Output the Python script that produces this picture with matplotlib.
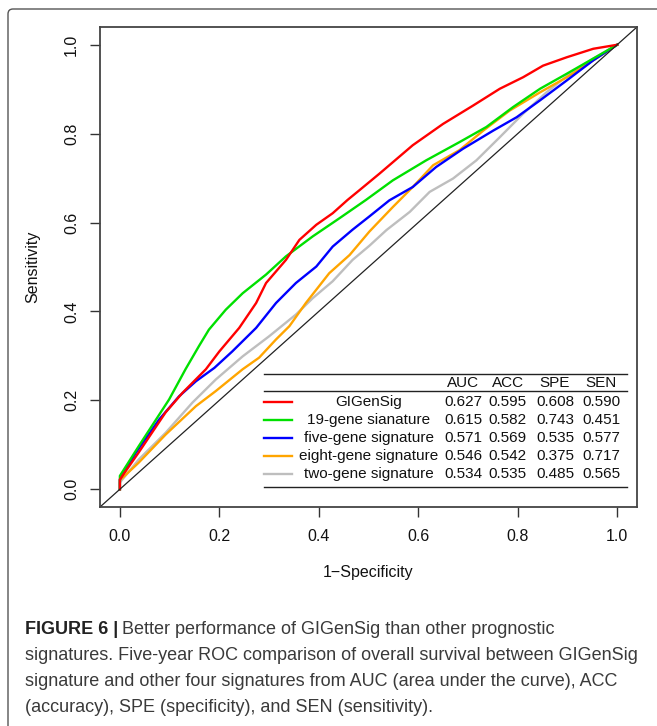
import numpy as np
import matplotlib.pyplot as plt
from matplotlib.patches import FancyBboxPatch
from matplotlib.transforms import IdentityTransform

plt.rcParams['font.family'] = ['Liberation Sans', 'DejaVu Sans']

# ROC curves (1-specificity, sensitivity)
red_x = [0, 0, 0.038, 0.092, 0.126, 0.173, 0.2, 0.24, 0.274, 0.294, 0.334, 0.361, 0.395, 0.428, 0.458,
         0.482, 0.522, 0.589, 0.65, 0.71, 0.764, 0.811, 0.851, 0.899, 0.952, 1.0]
red_y = [0, 0.022, 0.083, 0.173, 0.217, 0.27, 0.31, 0.363, 0.419, 0.464, 0.516, 0.561, 0.595, 0.621, 0.651,
         0.673, 0.71, 0.774, 0.822, 0.863, 0.901, 0.927, 0.953, 0.972, 0.991, 1.0]
green_x = [0, 0, 0.038, 0.099, 0.132, 0.159, 0.179, 0.213, 0.247, 0.294, 0.334, 0.388, 0.442, 0.495,
           0.549, 0.616, 0.683, 0.737, 0.791, 0.845, 0.899, 0.952, 1.0]
green_y = [0, 0.03, 0.097, 0.202, 0.27, 0.322, 0.359, 0.404, 0.441, 0.483, 0.524, 0.569, 0.61, 0.651,
           0.695, 0.74, 0.781, 0.815, 0.86, 0.901, 0.935, 0.969, 1.0]
blue_x = [0, 0, 0.032, 0.079, 0.119, 0.153, 0.19, 0.226, 0.274, 0.314, 0.354, 0.395, 0.428, 0.468, 0.502,
          0.542, 0.589, 0.636, 0.69, 0.751, 0.798, 0.845, 0.899, 0.952, 1.0]
blue_y = [0, 0.022, 0.082, 0.157, 0.209, 0.243, 0.273, 0.31, 0.363, 0.419, 0.464, 0.501, 0.546, 0.584, 0.614,
          0.65, 0.68, 0.725, 0.766, 0.807, 0.837, 0.875, 0.92, 0.965, 1.0]
orange_x = [0, 0, 0.038, 0.092, 0.153, 0.193, 0.247, 0.28, 0.314, 0.341, 0.374, 0.421, 0.462, 0.502,
            0.549, 0.589, 0.63, 0.683, 0.731, 0.784, 0.845, 0.899, 0.952, 1.0]
orange_y = [0, 0.02, 0.06, 0.123, 0.187, 0.221, 0.27, 0.296, 0.337, 0.367, 0.419, 0.486, 0.527, 0.58,
            0.635, 0.68, 0.729, 0.763, 0.807, 0.852, 0.893, 0.927, 0.965, 1.0]
gray_x = [0, 0, 0.038, 0.092, 0.146, 0.193, 0.247, 0.3, 0.354, 0.388, 0.428, 0.468, 0.502, 0.536,
          0.583, 0.623, 0.67, 0.717, 0.764, 0.811, 0.858, 0.905, 0.952, 1.0]
gray_y = [0, 0.015, 0.067, 0.127, 0.195, 0.247, 0.299, 0.344, 0.393, 0.43, 0.468, 0.516, 0.548, 0.583,
          0.624, 0.669, 0.699, 0.74, 0.792, 0.845, 0.893, 0.935, 0.969, 1.0]

names = ['GIGenSig', '19-gene sianature', 'five-gene signature', 'eight-gene signature', 'two-gene signature']
colors = ['#FF0000', '#00E000', '#0000FF', '#FFA500', '#BEBEBE']
metrics = ['AUC', 'ACC', 'SPE', 'SEN']
auc = ['0.627', '0.615', '0.571', '0.546', '0.534']
acc = ['0.595', '0.582', '0.569', '0.542', '0.535']
spe = ['0.608', '0.743', '0.535', '0.375', '0.485']
sen = ['0.590', '0.451', '0.577', '0.717', '0.565']

W, H = 657, 726
fig = plt.figure(figsize=(W / 100, H / 100), dpi=100)
ax = fig.add_axes([100 / W, 1 - 507 / H, 537 / W, 480 / H])

curves = [(red_x, red_y), (green_x, green_y), (blue_x, blue_y), (orange_x, orange_y), (gray_x, gray_y)]
# draw gray first so the coloured ones sit on top
for i in [4, 3, 2, 1, 0]:
    ax.plot(curves[i][0], curves[i][1], color=colors[i], lw=1.7, solid_joinstyle='round')
ax.axline((0, 0), (1, 1), color='#222222', lw=0.9)

ax.set_xlim(-0.04, 1.04)
ax.set_ylim(-0.04, 1.04)
ticks = [0.0, 0.2, 0.4, 0.6, 0.8, 1.0]
ax.set_xticks(ticks)
ax.set_yticks(ticks)
ax.set_xticklabels(['%.1f' % t for t in ticks])
ax.set_yticklabels(['%.1f' % t for t in ticks], rotation=90, va='center')
ax.tick_params(axis='both', length=7, width=1.0, color='#333333', labelsize=11.5, labelcolor='#111111')
ax.tick_params(axis='x', pad=9)
ax.tick_params(axis='y', pad=8)
for s in ax.spines.values():
    s.set_color('#444444')
    s.set_linewidth(1.3)

ax.set_xlabel('1\u2212Specificity', fontsize=11.5, color='#111111')
ax.xaxis.set_label_coords(0.5, -0.137)
ax.xaxis.label.set_va('center')
ax.set_ylabel('Sensitivity', fontsize=11.5, color='#111111')
ax.yaxis.set_label_coords(-0.125, 0.5)
ax.yaxis.label.set_va('center')

# table-style legend
x0, x1 = 0.290, 1.020
ax.plot([x0, x1], [0.260, 0.260], color='#222222', lw=1.0, clip_on=False)
ax.plot([x0, x1], [0.220, 0.220], color='#222222', lw=1.0, clip_on=False)
ax.plot([x0, x1], [0.005, 0.005], color='#222222', lw=1.0, clip_on=False)
col_x = [0.690, 0.780, 0.875, 0.968]
for cx, m in zip(col_x, metrics):
    ax.text(cx, 0.238, m, ha='center', va='center', fontsize=11, color='#111111')
row_y = [0.196, 0.155, 0.115, 0.074, 0.034]
for i in range(5):
    y = row_y[i]
    ax.plot([0.290, 0.347], [y, y], color=colors[i], lw=1.7)
    ax.text(0.50, y, names[i], ha='center', va='center', fontsize=11, color='#111111')
    for cx, v in zip(col_x, [auc[i], acc[i], spe[i], sen[i]]):
        ax.text(cx, y, v, ha='center', va='center', fontsize=11, color='#111111')

# outer frame of the figure panel
frame = FancyBboxPatch((8, -30), 700, H - 9 + 30, boxstyle='round,pad=0,rounding_size=5',
                       transform=IdentityTransform(), fill=False, ec='#555555', lw=1.0)
fig.add_artist(frame)

# caption
cap_size = 13
cx0 = 25 / W
bold = fig.text(cx0, 1 - 630 / H, 'FIGURE 6 |', fontsize=cap_size, fontweight='bold', color='#222222',
                va='center')
fig.canvas.draw()
bb = bold.get_window_extent()
fig.text(bb.x1 / W + 4 / W, 1 - 630 / H, 'Better performance of GIGenSig than other prognostic',
         fontsize=cap_size, color='#3a3a3a', va='center')
lines = ['signatures. Five-year ROC comparison of overall survival between GIGenSig',
         'signature and other four signatures from AUC (area under the curve), ACC',
         '(accuracy), SPE (specificity), and SEN (sensitivity).']
for k, ypx in enumerate([656, 681, 707]):
    fig.text(cx0, 1 - ypx / H, lines[k], fontsize=cap_size, color='#3a3a3a', va='center')

fig.savefig('out.png', dpi=100)
